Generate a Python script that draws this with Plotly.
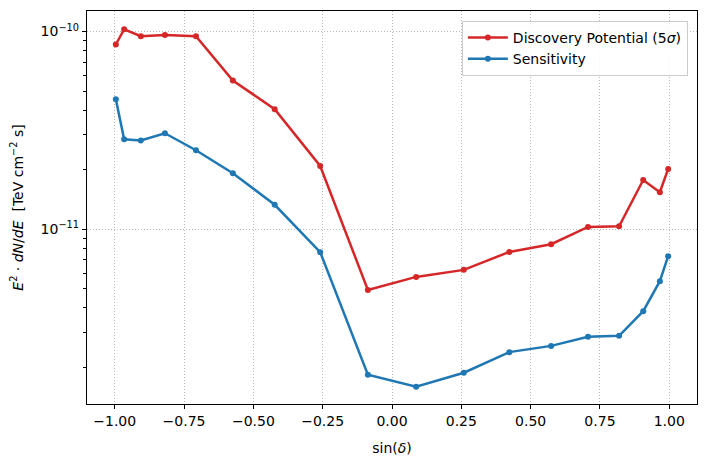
import plotly.graph_objects as go

# sin(declination) sample points
sin_dec = [-0.996, -0.966, -0.906, -0.819, -0.707, -0.574, -0.423, -0.259, -0.087,
           0.087, 0.259, 0.423, 0.574, 0.707, 0.819, 0.906, 0.966, 0.996]

discovery = [8.6e-11, 1.027e-10, 9.47e-11, 9.62e-11, 9.47e-11, 5.65e-11, 4.05e-11, 2.09e-11, 4.93e-12,
             5.74e-12, 6.23e-12, 7.68e-12, 8.40e-12, 1.027e-11, 1.035e-11, 1.774e-11, 1.538e-11, 2.02e-11]

sensitivity = [4.55e-11, 2.85e-11, 2.81e-11, 3.06e-11, 2.51e-11, 1.92e-11, 1.33e-11, 7.66e-12, 1.836e-12,
               1.598e-12, 1.88e-12, 2.39e-12, 2.57e-12, 2.86e-12, 2.89e-12, 3.85e-12, 5.46e-12, 7.31e-12]

x_ticks = [-1.0, -0.75, -0.5, -0.25, 0.0, 0.25, 0.5, 0.75, 1.0]
x_ticktext = ["\u22121.00", "\u22120.75", "\u22120.50", "\u22120.25", "0.00", "0.25", "0.50", "0.75", "1.00"]
y_ticks = [1e-11, 1e-10]
y_ticktext = ["10<sup>\u221211</sup>", "10<sup>\u221210</sup>"]
y_minor = [m * 10.0 ** e for e in (-12, -11) for m in range(2, 10)]

fig = go.Figure()
fig.add_trace(go.Scatter(
    x=sin_dec, y=discovery, mode="lines+markers",
    name="Discovery Potential (5<i>σ</i>)",
    line=dict(color="#d62728", width=2.5), marker=dict(size=6, color="#d62728")
))
fig.add_trace(go.Scatter(
    x=sin_dec, y=sensitivity, mode="lines+markers",
    name="Sensitivity",
    line=dict(color="#1f77b4", width=2.5), marker=dict(size=6, color="#1f77b4")
))

axis_common = dict(
    showline=True, linecolor="black", linewidth=1.2, mirror=True,
    ticks="outside", ticklen=4, tickcolor="black",
    showgrid=True, gridcolor="#b8b8b8", griddash="1px,2px", gridwidth=1,
    zeroline=False, automargin=False,
    tickfont=dict(size=14),
)

fig.update_xaxes(
    range=[-1.1, 1.1], tickvals=x_ticks, ticktext=x_ticktext,
    title=dict(text="sin(<i>δ</i>)", font=dict(size=14)),
    **axis_common
)
fig.update_yaxes(
    type="log", range=[-11.884, -9.896], tickvals=y_ticks, ticktext=y_ticktext,
    title=dict(text="<i>E</i><sup>2</sup> · <i>dN</i>/<i>dE</i>  [TeV cm<sup>−2</sup> s]", font=dict(size=14)),
    minor=dict(tickvals=y_minor, ticks="outside", ticklen=2.5, tickcolor="black", showgrid=False),
    **axis_common
)

# the page body has an 8px margin, so the figure is made smaller and shifted to line up
fig.update_layout(
    width=699, height=459,
    margin=dict(l=79, r=10, t=3, b=63),
    paper_bgcolor="white", plot_bgcolor="white",
    font=dict(family="DejaVu Sans", size=14, color="black"),
    legend=dict(
        x=0.985, y=0.975, xanchor="right", yanchor="top",
        bgcolor="rgba(255,255,255,0.85)", bordercolor="#cccccc", borderwidth=1,
        font=dict(size=14), itemwidth=40, tracegroupgap=4,
    ),
    showlegend=True,
)

fig.write_html("out.html")
